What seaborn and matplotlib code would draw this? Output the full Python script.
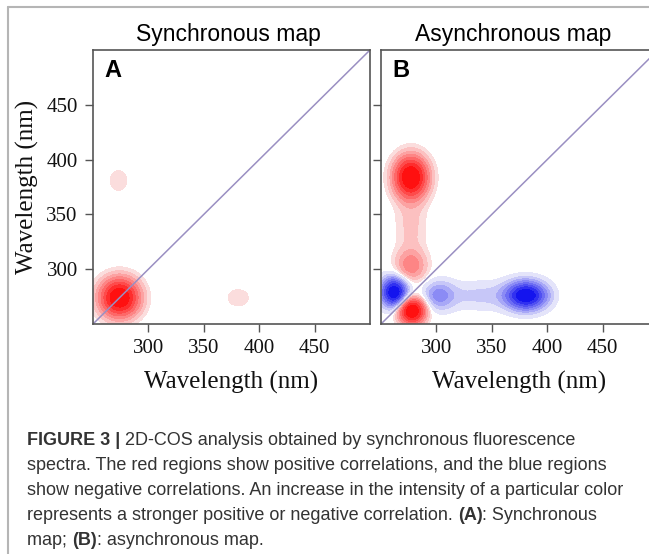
import numpy as np
import matplotlib
matplotlib.use("Agg")
import matplotlib.pyplot as plt
from matplotlib.lines import Line2D
import seaborn as sns

# wavelength axis (nm)
wl_min, wl_max = 250, 500
ticks = [300, 350, 400, 450]
diag = [250, 500]

# synchronous map peaks: centre x, centre y, intensity, width x, width y (nm)
sync_x = [274, 273, 381]
sync_y = [274, 381, 274]
sync_amp = [1.0, 0.095, 0.095]
sync_wx = [11.5, 6.5, 8]
sync_wy = [11.5, 8, 6.5]

# asynchronous map peaks (positive = red, negative = blue)
async_x = [277, 277, 277, 278, 381, 302, 340, 262]
async_y = [384, 303, 340, 262, 276, 276, 276, 279]
async_amp = [1.0, 0.3, 0.12, 1.0, -1.0, -0.3, -0.12, -1.0]
async_wx = [10, 9.5, 10, 8, 12, 10, 22, 8]
async_wy = [12.5, 10, 22, 8, 8.5, 9, 10, 9]

# contour levels (fraction of the strongest peak)
levels = [0.05, 0.1, 0.17, 0.25, 0.35, 0.47, 0.6, 0.76]

titles = ["Synchronous map", "Asynchronous map"]
letters = ["A", "B"]
xlab = "Wavelength (nm)"

caption = [
    [("FIGURE 3 |", "bold"), (" 2D-COS analysis obtained by synchronous fluorescence", "normal")],
    [("spectra. The red regions show positive correlations, and the blue regions", "normal")],
    [("show negative correlations. An increase in the intensity of a particular color", "normal")],
    [("represents a stronger positive or negative correlation. ", "normal"), ("(A)", "bold"),
     (": Synchronous", "normal")],
    [("map; ", "normal"), ("(B)", "bold"), (": asynchronous map.", "normal")],
]


def build_map(px, py, amp, wx, wy):
    g = np.linspace(wl_min, wl_max, 501)
    X, Y = np.meshgrid(g, g)
    Z = np.zeros_like(X)
    for x0, y0, a, sx, sy in zip(px, py, amp, wx, wy):
        Z += a * np.exp(-((X - x0) ** 2 / (2 * sx ** 2) + (Y - y0) ** 2 / (2 * sy ** 2)))
    return X, Y, Z


sns.set_style("ticks")
plt.rcParams["font.family"] = ["Liberation Sans", "DejaVu Sans"]

W, H = 649, 554
fig = plt.figure(figsize=(W / 100, H / 100), dpi=100)

red = sns.blend_palette(["#fbdddd", "#ff1010"], len(levels))
blue = sns.blend_palette(["#1414ee", "#e4e4fa"], len(levels))

maps = [build_map(sync_x, sync_y, sync_amp, sync_wx, sync_wy),
        build_map(async_x, async_y, async_amp, async_wx, async_wy)]

ax_left = [93 / W, 381 / W]
title_x = [228 / W, 513 / W]

for i in range(2):
    ax = fig.add_axes([ax_left[i], (H - 324) / H, 277 / W, 274 / H])
    X, Y, Z = maps[i]
    if Z.max() > levels[0]:
        ax.contourf(X, Y, Z, levels=levels + [Z.max() + 1], colors=red)
    if Z.min() < -levels[0]:
        ax.contourf(X, Y, Z, levels=[Z.min() - 1] + [-v for v in levels[::-1]], colors=blue)
    sns.lineplot(x=diag, y=diag, ax=ax, color="#9a8fc2", lw=1.1)

    ax.set_xlim(wl_min, wl_max)
    ax.set_ylim(wl_min, wl_max)
    ax.set_xticks(ticks)
    ax.set_yticks(ticks)
    ax.tick_params(direction="out", length=6, width=1, color="#555555", labelcolor="#111111",
                   labelsize=15, pad=5)
    for lab in ax.get_xticklabels() + ax.get_yticklabels():
        lab.set_family("Liberation Serif")
    for s in ax.spines.values():
        s.set_color("#555555")
        s.set_linewidth(1.2)

    ax.set_xlabel(xlab, fontsize=18, family="Liberation Serif", color="#111111")
    ax.xaxis.set_label_coords(0.5, -0.213)
    ax.xaxis.label.set_va("center")
    if i == 0:
        ax.set_ylabel(xlab, fontsize=18, family="Liberation Serif", color="#111111")
        ax.yaxis.set_label_coords(-0.236, 0.5)
        ax.yaxis.label.set_va("center")
    else:
        ax.set_yticklabels([])

    ax.text(0.04, 0.901, letters[i], transform=ax.transAxes, fontsize=17, fontweight="bold",
            color="black", va="baseline", ha="left")
    fig.text(title_x[i], 1 - 34 / H, titles[i], fontsize=16.5, color="black",
             ha="center", va="center")

# figure frame lines
fig.add_artist(Line2D([8 / W, 8 / W], [0, 1 - 7 / H], transform=fig.transFigure,
                      color="#b5b5b5", lw=1.5))
fig.add_artist(Line2D([8 / W, 1], [1 - 7 / H, 1 - 7 / H], transform=fig.transFigure,
                      color="#b5b5b5", lw=1.5))

# caption
r = fig.canvas.get_renderer()
for n, line in enumerate(caption):
    x = 27
    y = 445 + 25 * n
    for txt, wt in line:
        t = fig.text(x / W, 1 - y / H, txt, fontsize=13, fontweight=wt, color="#333333",
                     ha="left", va="baseline")
        x += t.get_window_extent(r).width

fig.savefig("out.png", dpi=100)
